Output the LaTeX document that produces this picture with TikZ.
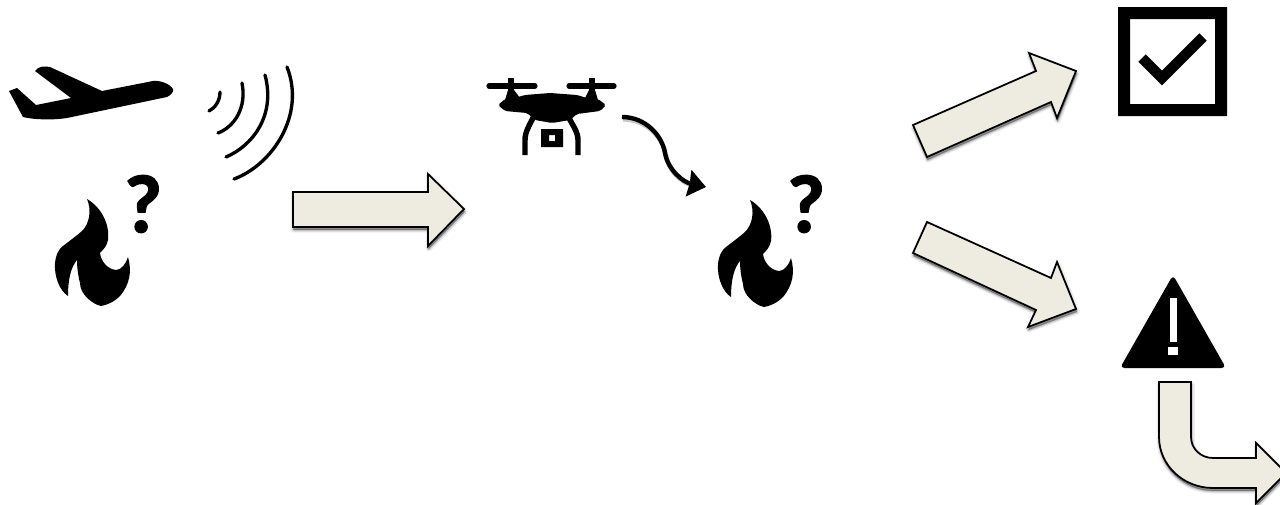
\documentclass[tikz,border=0pt]{standalone}
\usepackage{fontspec}
\setsansfont{Carlito}[BoldFeatures={FakeBold=1.5}]
\usetikzlibrary{arrows.meta,shadows}
\definecolor{blocktan}{RGB}{238,236,225}
\tikzset{
  softshadow/.style={
    general shadow={shadow xshift=0.4pt,shadow yshift=-1.4pt,fill=black,draw=black,line width=3.6pt,opacity=.06},
    general shadow={shadow xshift=0.4pt,shadow yshift=-1.6pt,fill=black,draw=black,line width=2pt,opacity=.12},
    general shadow={shadow xshift=0.3pt,shadow yshift=-1.6pt,fill=black,draw=black,line width=0.7pt,opacity=.2}},
  blockarrow/.style={softshadow,draw=black,fill=blocktan,line width=1pt,line join=miter},
  qmark/.style={font=\sffamily\bfseries\fontsize{47}{47}\selectfont,inner sep=0pt,text=black},
  wave/.style={draw=black,line width=1.9pt,line cap=round},
  rotor/.style={draw=black,line width=3pt,line cap=round},
  mast/.style={draw=black,line width=3.4pt},
  leg/.style={draw=black,line width=3.1pt},
  flighttip/.style={-{Stealth[length=10pt,width=15pt,inset=0.5pt]}},
  pics/flame/.style={code={
    \fill[black] (0,0) .. controls (14,8) and (23,25) .. (21,41) .. controls (20,47) and (16,51) .. (13,54)
      .. controls (14,62) and (20,70) .. (29,71) .. controls (34,71) and (39,65) .. (41,58)
      .. controls (45,72) and (43,85) .. (33,97) .. controls (27,103) and (20,106) .. (14,107)
      .. controls (5,105) and (-7,95) .. (-7,84) .. controls (-9,76) and (-10,68) .. (-10,61)
      .. controls (-16,68) and (-19,80) .. (-19,97) .. controls (-27,92) and (-33,78) .. (-32,64)
      .. controls (-31,55) and (-28,50) .. (-24,47) .. controls (-15,40) and (-8,35) .. (-4,31)
      .. controls (2,24) and (5,12) .. (0,0) -- cycle;}}
}
\begin{document}
\begin{tikzpicture}[x=0.02cm,y=-0.02cm,line join=round]
\useasboundingbox (0,0) rectangle (1280,504);
\clip (0,0) rectangle (1280,504);
\fill[black] (173,89) .. controls (170,84) and (160,80) .. (153,81) -- (102,91) -- (50,67) .. controls (45,66) and (38,66) .. (35,71) -- (71,98) -- (36,105) -- (17,88) -- (9,91) -- (23,117) .. controls (35,120) and (55,120) .. (67,118) -- (167,97) .. controls (171,95) and (174,92) .. (173,89) -- cycle;
\draw[wave] (209,111) .. controls (215,108) and (220,101) .. (220,92);
\draw[wave] (218,133) .. controls (234,127) and (247,108) .. (242,83);
\draw[wave] (226,157) .. controls (252,146) and (276,116) .. (265,75);
\draw[wave] (234,179) .. controls (272,165) and (306,115) .. (287,67);
\pic (flameleft) at (87,199) {flame};
\node[qmark] (qleft) at (143,204) {?};
\path[blockarrow] (293,192) -- (428,192) -- (428,174) -- (464,209) -- (428,246) -- (428,227) -- (293,227) -- cycle;
\draw[rotor] (489,86) -- (535,86);
\draw[rotor] (569,86) -- (614,86);
\draw[mast] (511,78) -- (511,100);
\draw[mast] (592,78) -- (592,100);
\fill[black] (505,100) -- (508,90) -- (514,90) -- (520,98) -- cycle;
\fill[black] (585,98) -- (589,90) -- (595,90) -- (598,100) -- cycle;
\fill[black,rounded corners=1pt] (498,105) -- (505,99) -- (518,97) -- (525,95) -- (550,93) -- (577,95) -- (587,98) -- (598,99) -- (606,105) -- (600,111) -- (577,114) -- (570,120) -- (552,123) -- (535,120) -- (527,113) -- (505,111) -- cycle;
\draw[leg] (534,116) .. controls (529,126) and (525,132) .. (525,140) -- (525,155);
\draw[leg] (568,116) .. controls (573,126) and (578,132) .. (578,140) -- (578,155);
\fill[black,even odd rule] (541,129) rectangle (563,147) (549,135) rectangle (555,141);
\coordinate (dronetail) at (622,117);
\coordinate (droneturn) at (665,153);
\coordinate (dronehead) at (706,187);
\draw[line width=2.5pt,black,opacity=.22,transform canvas={xshift=0.6pt,yshift=-1.4pt}] (dronetail) .. controls (645,117) and (662,135) .. (droneturn) .. controls (668,170) and (680,180) .. (695,185);
\draw[line width=2.5pt,black,flighttip] (dronetail) .. controls (645,117) and (662,135) .. (droneturn) .. controls (668,170) and (683,182) .. (dronehead);
\pic (flameright) at (750,200) {flame};
\node[qmark] (qright) at (806,204) {?};
\path[blockarrow] (913,125) -- (1036,71) -- (1029,53) -- (1076,71) -- (1057,118) -- (1051,102) -- (927,157) -- cycle;
\path[blockarrow] (927,222) -- (1051,278) -- (1057,262) -- (1076,309) -- (1028,327) -- (1036,310) -- (913,253) -- cycle;
\fill[black,even odd rule] (1118,7) rectangle (1227,116) (1130,19) rectangle (1215,104);
\draw[black,line width=6pt,line join=miter] (1142,58) -- (1162,78) -- (1203,37);
\fill[black,rounded corners=2.5pt] (1173,275) -- (1226,368) -- (1120,368) -- cycle;
\fill[white] (1169.5,298) rectangle (1177,342);
\fill[white] (1168,347) rectangle (1178,355);
\path[blockarrow] (1159,382) -- (1191,382) -- (1191,437) .. controls (1191,449) and (1201,458) .. (1213,458) -- (1256,458) -- (1256,443) -- (1286,473) -- (1256,503) -- (1256,488) -- (1213,488) .. controls (1183,488) and (1159,465) .. (1159,437) -- cycle;
\end{tikzpicture}
\end{document}
